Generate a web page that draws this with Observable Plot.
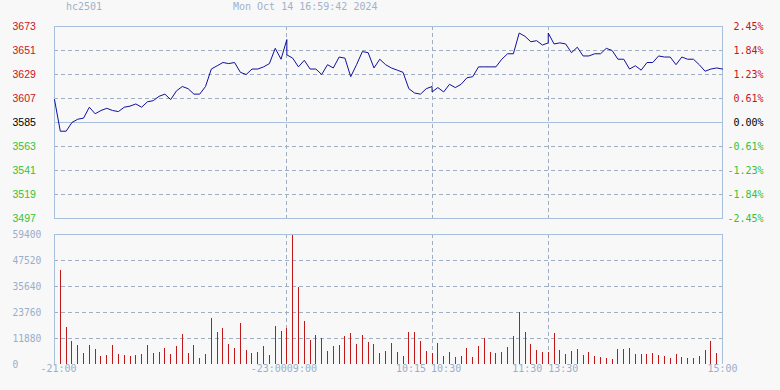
<!DOCTYPE html>
<html><head><meta charset="utf-8">
<script src="https://cdn.jsdelivr.net/npm/d3@7"></script>
<script src="https://cdn.jsdelivr.net/npm/@observablehq/plot@0.6"></script>
<style>
html,body{margin:0;padding:0;background:#f8f8f8;}
#wrap{position:relative;width:780px;height:390px;overflow:hidden;background:#f8f8f8;}
#wrap svg{position:absolute;left:0;}
.ttl{position:absolute;top:1px;font:10px "DejaVu Sans Mono",monospace;color:#9fb2cc;line-height:12px;white-space:pre;}
</style></head><body>
<div id="wrap">
<div class="ttl" id="t1" style="left:66px"></div>
<div class="ttl" id="t2" style="left:233px"></div>
</div>
<script>
// ---------- data ----------
const symbol = "hc2501";
const timestamp = "Mon Oct 14 16:59:42 2024";
const prevClose = 3585;
const priceTicks = [3673, 3651, 3629, 3607, 3585, 3563, 3541, 3519, 3497];
const pctTickLabels = ["2.45%", "1.84%", "1.23%", "0.61%", "0.00%", "-0.61%", "-1.23%", "-1.84%", "-2.45%"];
const volTicks = [0, 11880, 23760, 35640, 47520, 59400];
// 3-minute points, 21:00 -> 15:00
const prices = [
  3606,3577,3577,3585,3588,3589,3599,3593,3596,3598,
  3596,3595,3599,3600,3602,3599,3604,3605,3609,3611,
  3606,3614,3618,3616,3611,3611,3618,3634,3637,3640,
  3639,3640,3631,3629,3634,3634,3636,3639,3653,3643,
  3661,3644,3636,3642,3634,3634,3629,3638,3635,3645,
  3644,3627,3638,3650,3649,3635,3643,3638,3635,3633,
  3631,3616,3612,3611,3616,3618,3617,3613,3620,3617,
  3620,3626,3627,3636,3636,3636,3636,3643,3648,3648,
  3667,3664,3659,3660,3656,3658,3657,3658,3657,3649,
  3654,3646,3646,3648,3648,3653,3651,3643,3643,3634,
  3637,3633,3640,3640,3646,3645,3645,3638,3645,3643,
  3643,3638,3632,3634,3635,3634
];
const volumes = [
  5330,43100,16750,10660,8530,4870,8830,7000,3800,4260,
  8830,4720,4260,3800,4260,4720,8830,5180,5330,7460,
  4720,8380,13860,5180,8830,2890,4720,21170,14770,16600,
  9290,7460,18890,6550,5180,5640,8380,4260,17510,15230,
  16600,59400,35330,19800,11120,13400,12030,6090,8380,8830,
  12950,14320,9290,13400,10200,9290,5180,6090,9750,5640,
  3810,14770,14770,10660,6090,5180,9750,3810,5640,3350,
  3810,7460,3350,8380,12030,5640,5180,5640,7920,12950,
  23760,14770,9290,6550,5640,5640,14320,6550,4720,6090,
  7000,4260,5640,3810,3350,2890,2440,7000,7000,7460,
  4720,4720,4720,5180,4260,3810,2890,4720,3350,2890,
  2890,3810,6550,10660,5180,8830
];
const sessionBreaks = [40, 65, 85];          // 23:00|09:00, 10:15|10:30, 11:30|13:30
const sessionOpenPrices = [3647, 3613, 3667]; // first price of the following session
const timeLabels = ["-21:00", "-23:00", "09:00", "10:15", "10:30", "11:30", "13:30", "15:00"];
const timeLabelIdx = [0, 40, 40, 65, 65, 85, 85, 115];

// ---------- layout / style ----------
document.getElementById("t1").textContent = symbol;
document.getElementById("t2").textContent = timestamp;
const N = prices.length;
const idx = d3.range(N);
const red = "#c8141e", green = "#33c333", blueText = "#9aaeca";
const frameColor = "#a8c0dc", gridColor = "#a0aec4", dash = "4,3";
const mono = "'DejaVu Sans Mono', monospace";
const sans = "'Liberation Sans', Arial, sans-serif";
const colorFor = v => v > prevClose ? red : v < prevClose ? green : "#000";

const lineData = [];
idx.forEach(i => {
  lineData.push({i, p: prices[i]});
  const k = sessionBreaks.indexOf(i);
  if (k >= 0) lineData.push({i, p: sessionOpenPrices[k]});
});

const pricePlot = Plot.plot({
  width: 780, height: 228,
  marginLeft: 54, marginRight: 58, marginTop: 26, marginBottom: 10,
  style: {background: "transparent", overflow: "visible"},
  x: {domain: [0, N - 1], axis: null},
  y: {domain: [priceTicks[priceTicks.length - 1], priceTicks[0]], axis: null},
  marks: [
    Plot.ruleY(priceTicks.slice(1, -1).filter(v => v !== prevClose), {stroke: gridColor, strokeDasharray: dash, shapeRendering: "crispEdges"}),
    Plot.ruleX(sessionBreaks, {stroke: gridColor, strokeDasharray: dash, shapeRendering: "crispEdges"}),
    Plot.ruleY([prevClose], {stroke: frameColor, shapeRendering: "crispEdges"}),
    Plot.frame({stroke: frameColor, shapeRendering: "crispEdges"}),
    Plot.line(lineData, {x: "i", y: "p", stroke: "#10109c", strokeWidth: 1}),
    Plot.text(priceTicks, {y: d => d, text: d => String(d), frameAnchor: "left", textAnchor: "start", dx: -42,
      fill: colorFor, fontFamily: sans, fontSize: 10.5}),
    Plot.text(priceTicks, {y: d => d, text: (d, i) => pctTickLabels[i], frameAnchor: "right", textAnchor: "end", dx: 41,
      fill: colorFor, fontFamily: mono, fontSize: 10})
  ]
});
pricePlot.style.top = "0px";

// time label placement: first/last centred, session-close labels end at the break, session-open labels start there
const labelLayout = [
  {anchor: "middle", dx: 4}, {anchor: "end", dx: 0}, {anchor: "start", dx: 0},
  {anchor: "end", dx: -6}, {anchor: "start", dx: -1}, {anchor: "end", dx: -6},
  {anchor: "start", dx: 0}, {anchor: "middle", dx: 0}
];
const timeMarks = timeLabels.map((t, k) => Plot.text([t], {
  x: () => timeLabelIdx[k], text: d => d, frameAnchor: "bottom", dy: 7,
  textAnchor: labelLayout[k].anchor, dx: labelLayout[k].dx,
  fill: blueText, fontFamily: mono, fontSize: 10
}));

const volPlot = Plot.plot({
  width: 780, height: 162,
  marginLeft: 54, marginRight: 58, marginTop: 6, marginBottom: 26,
  style: {background: "transparent", overflow: "visible"},
  x: {domain: [0, N - 1], axis: null},
  y: {domain: [0, volTicks[volTicks.length - 1]], axis: null},
  marks: [
    Plot.ruleY(volTicks.slice(1, -1), {stroke: gridColor, strokeDasharray: dash, shapeRendering: "crispEdges"}),
    Plot.ruleX(sessionBreaks, {stroke: gridColor, strokeDasharray: dash, shapeRendering: "crispEdges"}),
    Plot.ruleX(idx, {x: d => d, y1: 0, y2: d => volumes[d], stroke: "#c01818", strokeWidth: 1, shapeRendering: "crispEdges"}),
    Plot.ruleX([0, N - 1], {stroke: frameColor, shapeRendering: "crispEdges"}),
    Plot.ruleY([volTicks[volTicks.length - 1]], {stroke: frameColor, shapeRendering: "crispEdges"}),
    Plot.text(volTicks, {y: d => d, text: d => String(d), frameAnchor: "left", textAnchor: "start", dx: -42,
      fill: blueText, fontFamily: mono, fontSize: 9.6}),
    ...timeMarks
  ]
});
volPlot.style.top = "228px";

const wrap = document.getElementById("wrap");
wrap.appendChild(pricePlot);
wrap.appendChild(volPlot);
</script>
</body></html>
